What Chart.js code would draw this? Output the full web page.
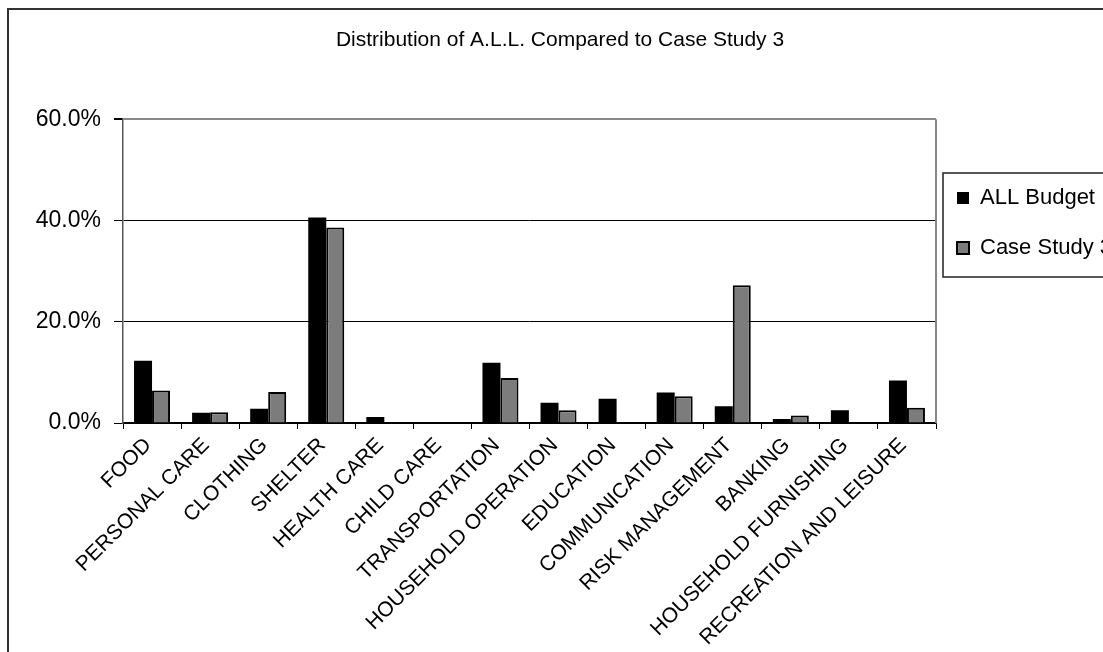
<!DOCTYPE html>
<html>
<head>
<meta charset="utf-8">
<title>Distribution of A.L.L. Compared to Case Study 3</title>
<script src="https://cdn.jsdelivr.net/npm/chart.js@4/dist/chart.umd.min.js"></script>
<style>
  html, body { margin: 0; padding: 0; background: #fff; overflow: hidden; }
  #wrap { position: absolute; left: 0; top: 0; width: 1120px; height: 700px; }
  canvas { display: block; }
</style>
</head>
<body>
<div id="wrap"><canvas id="chart" width="1120" height="700"></canvas></div>
<script>
// Budget categories
const categories = [
  'FOOD', 'PERSONAL CARE', 'CLOTHING', 'SHELTER', 'HEALTH CARE', 'CHILD CARE',
  'TRANSPORTATION', 'HOUSEHOLD OPERATION', 'EDUCATION', 'COMMUNICATION',
  'RISK MANAGEMENT', 'BANKING', 'HOUSEHOLD FURNISHING', 'RECREATION AND LEISURE'
];

// Share of spending per category, in percent
const allBudget   = [12.3, 2.0, 2.8, 40.6, 1.2, 0, 11.9, 4.0, 4.8, 6.0, 3.3, 0.8, 2.5, 8.4];
const caseStudy3  = [6.4, 2.1, 6.1, 38.6, 0, 0, 8.9, 2.5, 0, 5.3, 27.2, 1.5, 0, 3.0];

// Value axis ticks
const yTicks = [0, 20, 40, 60];

const FONT = "'Liberation Sans', Arial, sans-serif";
Chart.defaults.font.family = FONT;
Chart.defaults.color = '#000';

// Outer frame, plot-area frame and legend frame
const framePlugin = {
  id: 'frames',
  afterLayout(chart) {
    const lg = chart.legend;
    if (!lg) return;
    const h = lg.bottom - lg.top;
    lg.left = chart.chartArea.right - 7;
    lg.right = lg.left + lg.width;
    lg.top = 159;
    lg.bottom = lg.top + Math.max(h, 220);
  },
  beforeDraw(chart) {
    const ctx = chart.ctx;
    ctx.save();
    ctx.fillStyle = '#fff';
    ctx.fillRect(0, 0, chart.width, chart.height);
    ctx.strokeStyle = '#333';
    ctx.lineWidth = 2;
    ctx.strokeRect(8, 9, chart.width - 18, chart.height + 20);
    ctx.restore();
  },
  afterDraw(chart) {
    const ctx = chart.ctx;
    const a = chart.chartArea;
    ctx.save();
    // right side of the plot area
    ctx.strokeStyle = '#888';
    ctx.lineWidth = 2;
    ctx.beginPath();
    ctx.moveTo(Math.round(a.right), a.top);
    ctx.lineTo(Math.round(a.right), a.bottom);
    ctx.stroke();
    // legend frame
    const lg = chart.legend;
    ctx.strokeStyle = '#222';
    ctx.lineWidth = 1.5;
    ctx.strokeRect(lg.left + 14, lg.top + 14, 200, 104);
    ctx.restore();
  }
};

new Chart(document.getElementById('chart'), {
  type: 'bar',
  data: {
    labels: categories,
    datasets: [
      {
        label: 'ALL Budget',
        data: allBudget,
        backgroundColor: '#000',
        borderColor: '#000',
        borderWidth: 0
      },
      {
        label: 'Case Study 3',
        data: caseStudy3,
        backgroundColor: '#7c7c7c',
        borderColor: '#000',
        borderWidth: 2,
        borderSkipped: 'start'
      }
    ]
  },
  options: {
    responsive: false,
    animation: false,
    devicePixelRatio: 1,
    layout: { padding: { top: 10, left: 10, right: 10, bottom: 0 } },
    datasets: {
      bar: { categoryPercentage: 0.62, barPercentage: 1.0 }
    },
    plugins: {
      title: {
        display: true,
        text: 'Distribution of A.L.L. Compared to Case Study 3',
        font: { size: 21, weight: 'normal', family: FONT },
        color: '#000',
        padding: { top: 18, bottom: 66 }
      },
      legend: {
        display: true,
        position: 'right',
        align: 'start',
        maxWidth: 174,
        labels: {
          font: { size: 22, family: FONT },
          color: '#000',
          boxWidth: 12,
          boxHeight: 12,
          padding: 28
        }
      },
      tooltip: { enabled: false }
    },
    scales: {
      x: {
        offset: true,
        grid: {
          offset: true,
          drawOnChartArea: false,
          drawTicks: true,
          tickLength: 6,
          tickColor: '#000',
          tickWidth: 1
        },
        border: { color: '#000', width: 1.5 },
        ticks: {
          autoSkip: false,
          minRotation: 45,
          maxRotation: 45,
          padding: 4,
          labelOffset: -4,
          font: { size: 21, family: FONT },
          color: '#000'
        },
        afterFit(scale) { scale.height = 277; }
      },
      y: {
        min: 0,
        max: 60,
        afterBuildTicks(scale) { scale.ticks = yTicks.map(v => ({ value: v })); },
        grid: {
          color: c => (c.tick && c.tick.value === 60) ? '#888' : '#000',
          lineWidth: c => (c.tick && c.tick.value === 60) ? 2 : 1,
          drawTicks: true,
          tickLength: 9,
          tickColor: '#000'
        },
        border: { color: '#555', width: 1.5 },
        ticks: {
          padding: 13,
          font: { size: 23, family: FONT },
          color: '#000',
          callback: v => v.toFixed(1) + '%'
        },
        afterFit(scale) { scale.width = 113; }
      }
    }
  },
  plugins: [framePlugin]
});
</script>
</body>
</html>
